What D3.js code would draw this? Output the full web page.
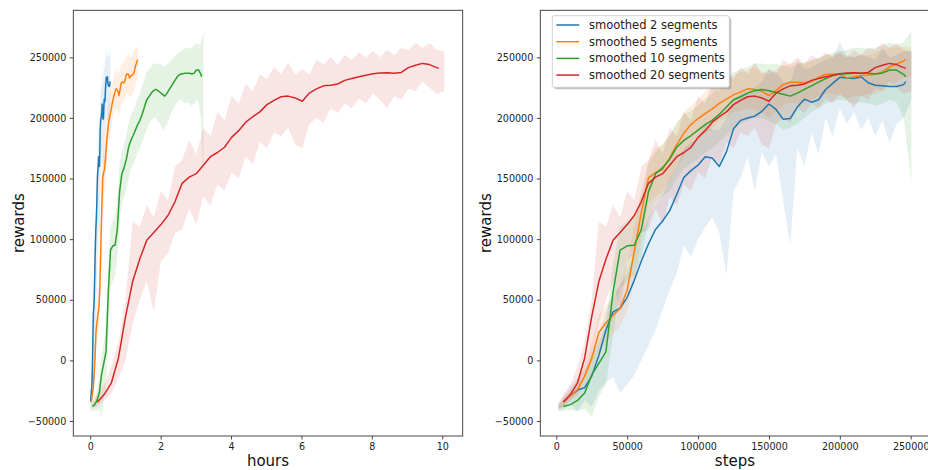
<!DOCTYPE html>
<html>
<head>
<meta charset="utf-8">
<script src="https://cdn.jsdelivr.net/npm/d3@7"></script>
<style>
  body { margin: 0; background: #fff; }
  svg { display: block; font-family: "DejaVu Sans", sans-serif; }
</style>
</head>
<body>
<svg id="chart" width="928" height="470"></svg>
<script>
// series names and colours
var seriesNames = ["smoothed 2 segments", "smoothed 5 segments", "smoothed 10 segments", "smoothed 20 segments"];
var seriesColors = ["#1f77b4", "#ff7f0e", "#2ca02c", "#d62728"];
// wall-clock hours at 250000 steps for each run (left panel x)
var hoursAt250k = [0.57, 1.36, 3.21, 10.04];

// steps for the smoothed mean lines
var lineSteps = [5000, 10000, 15000, 20000, 25000, 30000, 35000, 40000, 45000, 50000,
  55000, 60000, 65000, 70000, 75000, 80000, 85000, 90000, 95000, 100000,
  105000, 110000, 115000, 120000, 125000, 130000, 135000, 140000, 145000, 150000,
  155000, 160000, 165000, 170000, 175000, 180000, 185000, 190000, 195000, 200000,
  205000, 210000, 215000, 220000, 225000, 230000, 235000, 240000, 245000, 246500];

var mean2 = [-34000, -29000, -24500, -22500, -13000, 4000, 25000, 40000, 43000, 52000,
  66000, 82000, 96000, 108000, 115000, 123500, 137000, 151000, 156500, 161000,
  168000, 167000, 160000, 172000, 191000, 198000, 200000, 201500, 205500, 211500,
  207000, 199000, 199500, 209000, 215500, 213000, 215000, 223500, 228500, 233500,
  233000, 232500, 234000, 229000, 227000, 226500, 226000, 226000, 227500, 230000];
var mean5 = [-34000, -29000, -24000, -13000, 1500, 23000, 31000, 37000, 43000, 58000,
  90000, 122000, 150500, 155000, 157500, 167000, 178000, 187500, 194500, 199500,
  203500, 207500, 212000, 215500, 219000, 221500, 224000, 223500, 222000, 218500,
  222500, 227500, 229500, 229500, 229000, 230000, 233500, 236000, 236200, 236000,
  233000, 234000, 235000, 235400, 236000, 238000, 242000, 244500, 247000, 248000];
var mean10 = [-38000, -36500, -33000, -27000, -12000, -2500, 7000, 56000, 91000, 94500,
  95000, 108000, 139000, 154000, 159000, 166000, 176000, 181500, 185500, 190000,
  194500, 198000, 203000, 209000, 215000, 217500, 220500, 222500, 223500, 222500,
  221000, 219500, 218000, 220500, 223500, 226500, 229500, 232500, 235000, 236200,
  236500, 236800, 236800, 236800, 236300, 237000, 239500, 239500, 236000, 234000];
var mean20 = [-34500, -28000, -18500, 2000, 36000, 65000, 83500, 99000, 105500, 112000,
  119500, 131000, 146000, 151200, 154000, 161000, 168000, 171500, 175800, 184000,
  189500, 196500, 201000, 205000, 211000, 214500, 217500, 218000, 216500, 213800,
  220500, 224000, 226500, 227000, 228000, 231000, 232500, 234000, 235300, 236500,
  237000, 237200, 236800, 237500, 241500, 243500, 245000, 244000, 241500, 241000];

// steps for the min/max bands
var bandSteps = [1500, 5000, 10000, 15000, 20000, 25000, 30000, 35000, 40000, 45000, 50000,
  55000, 60000, 65000, 70000, 75000, 80000, 85000, 90000, 95000, 100000,
  105000, 110000, 115000, 120000, 125000, 130000, 135000, 140000, 145000, 150000,
  155000, 160000, 165000, 170000, 175000, 180000, 185000, 190000, 195000, 200000,
  205000, 210000, 215000, 220000, 225000, 230000, 235000, 240000, 245000, 250500];

var low2 = [-41000, -40000, -36000, -42000, -33000, -38000, -25000, -18000, -14000, -27000, -20000,
  -12000, 0, 12000, 25000, 42000, 58000, 72000, 95000, 85000, 100000,
  110000, 118000, 105000, 70000, 140000, 150000, 168000, 140000, 172000, 160000,
  170000, 132000, 95000, 175000, 160000, 188000, 170000, 200000, 185000, 208000,
  195000, 205000, 190000, 200000, 185000, 198000, 180000, 195000, 200000, 215000];
var high2 = [-37000, -30000, -22000, -15000, -8000, 5000, 20000, 40000, 55000, 62000, 72000,
  90000, 105000, 118000, 128000, 136000, 150000, 160000, 175000, 180000, 182000,
  195000, 190000, 190000, 200000, 215000, 220000, 222000, 225000, 230000, 240000,
  238000, 230000, 228000, 248000, 240000, 242000, 245000, 248000, 250000, 262000,
  252000, 250000, 252000, 250000, 248000, 258000, 250000, 252000, 255000, 255000];
var low5 = [-41000, -38000, -33000, -30000, -22000, -10000, 5000, 15000, 22000, 28000, 40000,
  65000, 100000, 130000, 135000, 140000, 148000, 160000, 168000, 178000, 182000,
  188000, 190000, 198000, 200000, 205000, 206000, 208000, 207000, 205000, 200000,
  205000, 210000, 213000, 212000, 213000, 215000, 218000, 220000, 220000, 218000,
  216000, 218000, 218000, 220000, 220000, 222000, 226000, 230000, 233000, 235000];
var high5 = [-37000, -30000, -24000, -16000, -3000, 15000, 38000, 45000, 52000, 62000, 80000,
  112000, 140000, 165000, 175000, 178000, 185000, 195000, 205000, 210000, 215000,
  222000, 225000, 228000, 232000, 235000, 238000, 240000, 242000, 238000, 236000,
  240000, 243000, 245000, 246000, 245000, 247000, 249000, 252000, 252000, 253000,
  250000, 250000, 252000, 252000, 254000, 256000, 258000, 258000, 259000, 258000];
var low10 = [-42000, -42000, -41000, -42000, -40000, -47000, -30000, -20000, 20000, 60000, 65000,
  70000, 85000, 115000, 130000, 135000, 140000, 150000, 158000, 162000, 166000,
  172000, 175000, 180000, 186000, 190000, 195000, 198000, 200000, 200000, 197000,
  195000, 190000, 192000, 195000, 200000, 205000, 208000, 212000, 214000, 215000,
  214000, 212000, 213000, 212000, 210000, 212000, 215000, 213000, 200000, 146000];
var high10 = [-36000, -34000, -30000, -24000, -15000, 5000, 15000, 30000, 80000, 110000, 115000,
  118000, 135000, 162000, 172000, 178000, 186000, 196000, 203000, 206000, 210000,
  216000, 220000, 226000, 232000, 238000, 240000, 242000, 245000, 245000, 244000,
  245000, 243000, 242000, 244000, 246000, 248000, 250000, 252000, 254000, 255000,
  256000, 258000, 258000, 257000, 258000, 260000, 262000, 260000, 262000, 272000];
var low20 = [-40000, -38000, -33000, -27000, -15000, 0, 30000, 50000, 65000, 40000, 82000,
  88000, 105000, 108000, 125000, 112000, 135000, 128000, 145000, 140000, 155000,
  150000, 168000, 162000, 180000, 175000, 188000, 185000, 192000, 178000, 175000,
  195000, 200000, 196000, 208000, 204000, 212000, 208000, 216000, 212000, 220000,
  215000, 208000, 218000, 215000, 224000, 222000, 230000, 225000, 220000, 222000];
var high20 = [-35000, -28000, -20000, -5000, 15000, 50000, 115000, 110000, 128000, 118000, 140000,
  132000, 160000, 165000, 182000, 170000, 192000, 185000, 205000, 198000, 218000,
  212000, 228000, 222000, 236000, 232000, 242000, 236000, 246000, 236000, 240000,
  236000, 248000, 244000, 250000, 244000, 252000, 248000, 254000, 250000, 255000,
  250000, 256000, 252000, 258000, 256000, 262000, 258000, 262000, 256000, 255000];

var yTicks = [-50000, 0, 50000, 100000, 150000, 200000, 250000];
var hourTicks = [0, 2, 4, 6, 8, 10];
var stepTicks = [0, 50000, 100000, 150000, 200000, 250000];

var means = [mean2, mean5, mean10, mean20];
var lows = [low2, low5, low10, low20];
var highs = [high2, high5, high10, high20];

var svg = d3.select("#chart");
var plotTop = 10.3, plotBottom = 436, plotW = 389.4;
var y = d3.scaleLinear().domain([-62400, 288800]).range([plotBottom, plotTop]);

var panels = [
  {left: 73.3, domain: [-0.48, 10.58], ticks: hourTicks, label: "hours", hours: true},
  {left: 540.3, domain: [-11290, 263400], ticks: stepTicks, label: "steps", hours: false}
];

panels.forEach(function(p, pi) {
  var x = d3.scaleLinear().domain(p.domain).range([p.left, p.left + plotW]);
  var g = svg.append("g");
  var clipId = "clip" + pi;
  svg.append("clipPath").attr("id", clipId).append("rect")
    .attr("x", p.left).attr("y", plotTop).attr("width", plotW).attr("height", plotBottom - plotTop);

  function xs(step, si) {
    return p.hours ? x(step / 250000 * hoursAt250k[si]) : x(step);
  }

  var plot = g.append("g").attr("clip-path", "url(#" + clipId + ")");
  // bands first
  for (var si = 0; si < 4; si++) {
    (function(si) {
      var area = d3.area()
        .x(function(d, i) { return xs(bandSteps[i], si); })
        .y0(function(d, i) { return y(lows[si][i]); })
        .y1(function(d, i) { return y(highs[si][i]); });
      plot.append("path").datum(bandSteps)
        .attr("d", area)
        .attr("fill", seriesColors[si])
        .attr("fill-opacity", 0.12)
        .attr("stroke", "none");
    })(si);
  }
  for (var si = 0; si < 4; si++) {
    (function(si) {
      var line = d3.line()
        .x(function(d, i) { return xs(lineSteps[i], si); })
        .y(function(d) { return y(d); });
      plot.append("path").datum(means[si])
        .attr("d", line)
        .attr("fill", "none")
        .attr("stroke", seriesColors[si])
        .attr("stroke-width", 1.5)
        .attr("stroke-linejoin", "round");
    })(si);
  }

  // axes
  var xAxis = d3.axisBottom(x).tickValues(p.ticks).tickFormat(d3.format("d")).tickSize(3.5).tickPadding(3.5);
  var yAxis = d3.axisLeft(y).tickValues(yTicks).tickFormat(d3.format("d")).tickSize(3.5).tickPadding(3.5);
  var gx = g.append("g").attr("transform", "translate(0," + plotBottom + ")").call(xAxis);
  var gy = g.append("g").attr("transform", "translate(" + p.left + ",0)").call(yAxis);
  [gx, gy].forEach(function(a) {
    a.select(".domain").remove();
    a.selectAll(".tick line").attr("stroke", "#333").attr("stroke-width", 0.9);
    a.selectAll(".tick text").attr("fill", "#222").style("font-size", "9.6px").style("font-family", "DejaVu Sans");
  });

  g.append("rect")
    .attr("x", p.left).attr("y", plotTop).attr("width", plotW).attr("height", plotBottom - plotTop)
    .attr("fill", "none").attr("stroke", "#333").attr("stroke-width", 0.9);

  g.append("text")
    .attr("x", p.left + plotW / 2).attr("y", 466)
    .attr("text-anchor", "middle")
    .style("font-size", "15px")
    .attr("fill", "#111")
    .text(p.label);
  g.append("text")
    .attr("transform", "translate(" + (p.left - 49.5) + "," + ((plotTop + plotBottom) / 2) + ") rotate(-90)")
    .attr("text-anchor", "middle")
    .style("font-size", "15px")
    .attr("fill", "#111")
    .text("rewards");
});

// legend in right panel
var lg = svg.append("g").attr("transform", "translate(552.3,15.7)");
lg.append("rect").attr("x", 2).attr("y", 2).attr("width", 177).attr("height", 71.6)
  .attr("rx", 2).attr("fill", "#888").attr("fill-opacity", 0.5);
lg.append("rect").attr("width", 177).attr("height", 71.6)
  .attr("rx", 2).attr("fill", "#fff").attr("stroke", "#ccc").attr("stroke-width", 0.9);
seriesNames.forEach(function(name, i) {
  var cy = 9.3 + i * 16.7;
  lg.append("line").attr("x1", 4).attr("x2", 27).attr("y1", cy).attr("y2", cy)
    .attr("stroke", seriesColors[i]).attr("stroke-width", 1.5);
  lg.append("text").attr("x", 36.7).attr("y", cy + 4.1)
    .style("font-size", "11.5px").attr("fill", "#222").text(name);
});
</script>
</body>
</html>
